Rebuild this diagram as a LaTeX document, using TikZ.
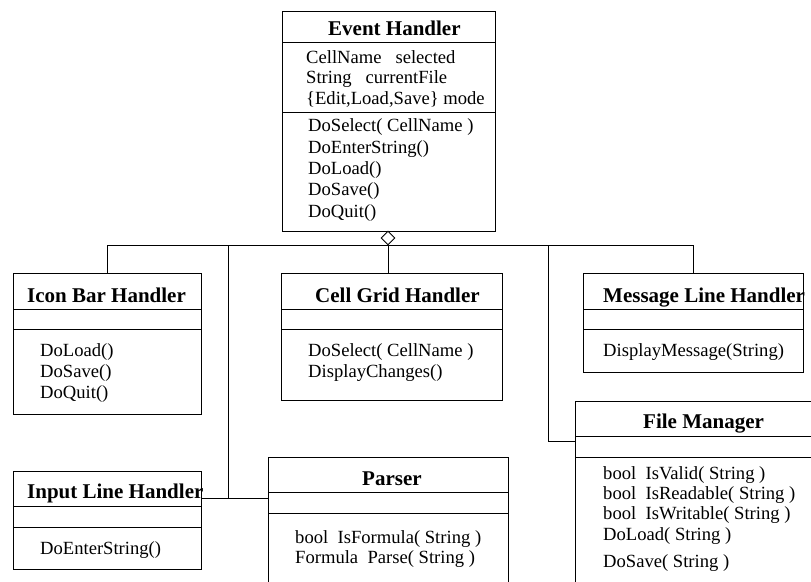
\documentclass[tikz,border=0pt]{standalone}
\usepackage{fontspec}
\setmainfont{Liberation Serif}
\usetikzlibrary{shapes.geometric}
\begin{document}
\begin{tikzpicture}[x=1pt,y=-1pt,
  box/.style={draw, line width=0.9pt, rectangle, anchor=north west, inner sep=0pt},
  title/.style={anchor=base west, inner sep=0pt, font=\fontsize{21}{25}\selectfont\bfseries},
  item/.style={anchor=base west, inner sep=0pt, font=\fontsize{18.6}{21}\selectfont},
  sep/.style={line width=0.9pt},
  link/.style={line width=0.9pt},
  aggr/.style={diamond, draw, fill=white, line width=0.9pt, inner sep=0pt,
    minimum width=14pt, minimum height=14pt}]
\useasboundingbox (0,0) rectangle (811,581);
\clip (0,0) rectangle (811,581);

% ---------- Event Handler ----------
\node[box, minimum width=213pt, minimum height=220pt] (eh) at (282,11) {};
\draw[sep] (282,42) -- (495,42);
\draw[sep] (282,112) -- (495,112);
\node[title] (ehT) at (328,35) {Event Handler};
\foreach \t [count=\i from 0] in {CellName\ \ \ selected, String\ \ \ currentFile, {\{Edit,Load,Save\} mode}}
  \node[item, name=ehA\i] at (306, 63+20.5*\i) {\t};
\foreach \t [count=\i from 0] in {DoSelect( CellName ), DoEnterString(), DoLoad(), DoSave(), DoQuit()}
  \node[item, name=ehM\i] at (308, 131.7+21.4*\i) {\t};

% ---------- Icon Bar Handler ----------
\node[box, minimum width=188pt, minimum height=141pt] (icon) at (13,273) {};
\draw[sep] (13,309) -- (201,309);
\draw[sep] (13,329) -- (201,329);
\node[title] (iconT) at (27,302) {Icon Bar Handler};
\foreach \t [count=\i from 0] in {DoLoad(), DoSave(), DoQuit()}
  \node[item, name=iconM\i] at (40, 356+21*\i) {\t};

% ---------- Cell Grid Handler ----------
\node[box, minimum width=221pt, minimum height=127pt] (cell) at (281,273) {};
\draw[sep] (281,309) -- (502,309);
\draw[sep] (281,329) -- (502,329);
\node[title] (cellT) at (315,302) {Cell Grid Handler};
\foreach \t [count=\i from 0] in {DoSelect( CellName ), DisplayChanges()}
  \node[item, name=cellM\i] at (308, 356+21*\i) {\t};

% ---------- Message Line Handler ----------
\node[box, minimum width=220pt, minimum height=99pt] (msg) at (583,273) {};
\draw[sep] (583,309) -- (803,309);
\draw[sep] (583,329) -- (803,329);
\node[title] (msgT) at (603,302) {Message Line Handler};
\node[item] (msgM0) at (603,356) {DisplayMessage(String)};

% ---------- Input Line Handler ----------
\node[box, minimum width=188pt, minimum height=98pt] (input) at (13,471) {};
\draw[sep] (13,506) -- (201,506);
\draw[sep] (13,527) -- (201,527);
\node[title] (inputT) at (27,498) {Input Line Handler};
\node[item] (inputM0) at (40,554) {DoEnterString()};

% ---------- Parser ----------
\node[box, minimum width=240pt, minimum height=150pt] (parser) at (268,457) {};
\draw[sep] (268,492) -- (508,492);
\draw[sep] (268,513) -- (508,513);
\node[title] (parserT) at (362,485) {Parser};
\node[item] (parserM0) at (295,543) {bool\ \ IsFormula( String )};
\node[item] (parserM1) at (295,563) {Formula\ \ Parse( String )};

% ---------- File Manager ----------
\node[box, minimum width=260pt, minimum height=200pt] (fm) at (575,401) {};
\draw[sep] (575,436) -- (835,436);
\draw[sep] (575,457) -- (835,457);
\node[title] (fmT) at (643,428) {File Manager};
\node[item] (fmM0) at (603,479) {bool\ \ IsValid( String )};
\node[item] (fmM1) at (603,499) {bool\ \ IsReadable( String )};
\node[item] (fmM2) at (603,519) {bool\ \ IsWritable( String )};
\node[item] (fmM3) at (603,540) {DoLoad( String )};
\node[item] (fmM4) at (603,567) {DoSave( String )};

% ---------- aggregation tree ----------
\node[aggr] (agg) at (388,238) {};
\coordinate (j1) at (228,498);
\coordinate (j2) at (548,441);
\draw[link] (icon.north) |- (agg.south);
\draw[link] (msg.north) |- (agg.south);
\draw[link] (agg.south) -- (agg.south |- cell.north);
\draw[link] (j1 |- agg.south) -- (j1);
\draw[link] (input.east |- j1) -- (parser.west |- j1);
\draw[link] (j2 |- agg.south) -- (j2) -- (fm.west |- j2);
\end{tikzpicture}
\end{document}
